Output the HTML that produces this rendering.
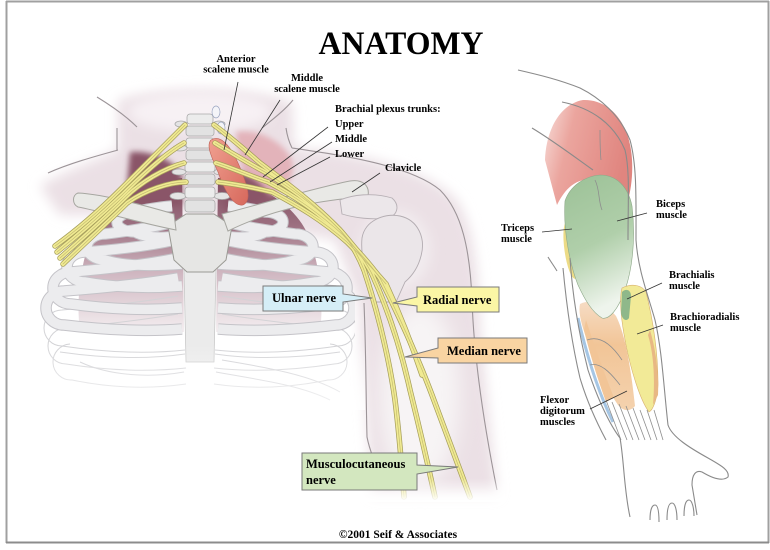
<!DOCTYPE html>
<html><head><meta charset="utf-8"><style>
html,body{margin:0;padding:0;background:#fff;}
svg{display:block;}
text{font-family:"Liberation Serif",serif;font-weight:bold;fill:#000;}
</style></head><body>
<svg width="770" height="550" viewBox="0 0 770 550" xmlns="http://www.w3.org/2000/svg">
<defs>
 <filter id="b3" x="-50%" y="-50%" width="200%" height="200%"><feGaussianBlur stdDeviation="3"/></filter>
 <filter id="b6" x="-50%" y="-50%" width="200%" height="200%"><feGaussianBlur stdDeviation="6"/></filter>
 <filter id="b10" x="-50%" y="-50%" width="200%" height="200%"><feGaussianBlur stdDeviation="10"/></filter>
 <linearGradient id="lung" gradientUnits="userSpaceOnUse" x1="0" y1="178" x2="0" y2="335">
  <stop offset="0" stop-color="#7f4a5d"/>
  <stop offset="0.3" stop-color="#9c6f80"/>
  <stop offset="0.6" stop-color="#cfb6c0"/>
  <stop offset="1" stop-color="#f6f1f3"/>
 </linearGradient>
 <linearGradient id="fadeW" x1="0" y1="0" x2="0" y2="1">
  <stop offset="0" stop-color="#fff" stop-opacity="0"/>
  <stop offset="1" stop-color="#fff" stop-opacity="1"/>
 </linearGradient>
 <linearGradient id="delt" x1="0" y1="0" x2="1" y2="0.3">
  <stop offset="0" stop-color="#f8e0dc"/>
  <stop offset="0.35" stop-color="#eba59e"/>
  <stop offset="1" stop-color="#e0857f"/>
 </linearGradient>
 <linearGradient id="bic" x1="0" y1="0" x2="0.25" y2="1">
  <stop offset="0" stop-color="#9cc197"/>
  <stop offset="0.55" stop-color="#b0cfaa"/>
  <stop offset="1" stop-color="#eef4ec"/>
 </linearGradient>
 <linearGradient id="scal" x1="0" y1="0" x2="1" y2="1">
  <stop offset="0" stop-color="#f0a090"/>
  <stop offset="1" stop-color="#d7685c"/>
 </linearGradient>
 <linearGradient id="flex" x1="0" y1="0" x2="0" y2="1">
  <stop offset="0" stop-color="#f6dcc4"/>
  <stop offset="0.4" stop-color="#f2c597"/>
  <stop offset="1" stop-color="#f4d2ae"/>
 </linearGradient>
 <clipPath id="ribclip"><rect x="20" y="150" width="335" height="300"/></clipPath>
 <g id="ribs">
  <g fill="none" stroke="#d3d3d6" stroke-width="1">
   <path d="M186,368 Q130,374 66,364 A18,18 0 0 1 66,328 Q130,322 178,314"/>
   <path d="M186,384 Q130,392 72,380 A18,18 0 0 1 70,344"/>
   <path d="M185,350 Q130,356 62,346 A18,18 0 0 1 62,310 Q130,304 178,296"/>
   <path d="M185,354 Q130,362 60,352"/>
  </g>
  <g fill="none" stroke="#c4c3c8" stroke-width="11.5">
   <path d="M182,329 Q130,333 64,325 A18,17 0 0 1 64,291 Q130,286 178,278"/>
   <path d="M182,308 Q130,312 71,304 A18,16 0 0 1 71,272 Q140,266 178,258"/>
   <path d="M182,286 Q130,290 85,282 A18,15 0 0 1 85,252 Q140,248 175,240"/>
   <path d="M182,264 Q130,268 105,260 A18,13 0 0 1 105,234 Q140,230 175,222"/>
   <path d="M176,236 Q150,240 135,232 A18,10 0 0 1 135,212 Q150,208 172,206"/>
  </g>
  <g fill="none" stroke="#ececee" stroke-width="9.5">
   <path d="M182,329 Q130,333 64,325 A18,17 0 0 1 64,291 Q130,286 178,278"/>
   <path d="M182,308 Q130,312 71,304 A18,16 0 0 1 71,272 Q140,266 178,258"/>
   <path d="M182,286 Q130,290 85,282 A18,15 0 0 1 85,252 Q140,248 175,240"/>
   <path d="M182,264 Q130,268 105,260 A18,13 0 0 1 105,234 Q140,230 175,222"/>
   <path d="M176,236 Q150,240 135,232 A18,10 0 0 1 135,212 Q150,208 172,206"/>
  </g>
 </g>
</defs>

<rect width="770" height="550" fill="#fff"/>

<!-- ===== LEFT FIGURE: skin ===== -->
<path d="M40,186 C62,172 95,160 118,150 L118,100 C160,86 250,86 292,102 L294,148 C350,152 420,165 455,198 C478,228 478,290 481,335 L497,495 L372,495 L358,300 L335,240 L200,215 L60,215 Z" fill="#ebe0e5" filter="url(#b6)"/>
<ellipse cx="200" cy="112" rx="72" ry="20" fill="#f7f1f4" filter="url(#b6)"/>
<ellipse cx="420" cy="395" rx="40" ry="92" fill="#f7f4f5" filter="url(#b10)"/>
<ellipse cx="395" cy="250" rx="36" ry="40" fill="#f2ecef" filter="url(#b6)"/>

<!-- lungs -->
<path d="M182,178 C140,182 105,205 92,235 C80,265 76,300 80,332 L184,332 Z" fill="url(#lung)"/>
<path d="M218,178 C260,182 295,205 308,235 C320,265 324,300 320,332 L216,332 Z" fill="url(#lung)"/>
<!-- middle scalene pink -->
<path d="M236,132 C256,128 282,140 292,160 C297,180 282,196 262,196 C246,190 238,160 236,132 Z" fill="#e3b3ba" filter="url(#b3)"/>
<path d="M130,152 C150,150 175,160 182,175 L182,205 L125,205 Z" fill="#8a5567" filter="url(#b3)"/>
<path d="M222,168 C240,168 262,180 272,200 L225,212 Z" fill="#8a5567" filter="url(#b3)"/>

<!-- ribs -->
<g clip-path="url(#ribclip)">
 <use href="#ribs"/>
 <g transform="translate(400,0) scale(-1,1)"><use href="#ribs"/></g>
</g>
<g fill="none" stroke="#d0d0d4" stroke-width="1">
 <path d="M216,372 C260,380 300,385 330,400"/>
 <path d="M222,360 C270,368 310,375 340,392"/>
 <path d="M184,372 C150,378 110,376 80,362"/>
</g>

<!-- sternum -->
<path d="M184,270 L216,270 L214,362 L186,362 Z" fill="#ebebeb" stroke="#c8c8c8" stroke-width="0.8"/>
<path d="M168,226 L186,214 L214,214 L232,226 L226,260 L213,272 L187,272 L174,260 Z" fill="#e6e6e4" stroke="#9a9a94" stroke-width="1"/>

<!-- fade lower chest -->
<rect x="20" y="345" width="345" height="65" fill="url(#fadeW)" opacity="0.8"/>

<!-- outlines left figure -->
<g fill="none" stroke="#9c9498" stroke-width="1.1">
 <path d="M97,97 C110,105 125,115 137,127"/>
 <path d="M117,128 L117,150"/>
 <path d="M48,173 C70,163 100,155 118,150"/>
 <path d="M293,100 C285,110 272,120 262,128"/>
 <path d="M286,128 C287,135 289,142 292,148"/>
 <path d="M292,148 C340,155 410,165 440,190 C462,212 470,250 472,300 C474,360 485,430 497,490"/>
 <path d="M364,303 C366,350 366,400 367,437 C370,452 375,462 380,472"/>
</g>

<!-- spine -->
<g stroke="#a9a9a9" stroke-width="0.8">
 <ellipse cx="181" cy="124" rx="6" ry="3" fill="#e4e4e4"/>
 <ellipse cx="219" cy="124" rx="6" ry="3" fill="#e4e4e4"/>
 <ellipse cx="180" cy="148" rx="7" ry="3" fill="#e4e4e4"/>
 <ellipse cx="220" cy="148" rx="7" ry="3" fill="#e4e4e4"/>
 <ellipse cx="179" cy="172" rx="7" ry="3" fill="#e4e4e4"/>
 <ellipse cx="221" cy="172" rx="7" ry="3" fill="#e4e4e4"/>
 <ellipse cx="178" cy="196" rx="8" ry="3.5" fill="#e4e4e4"/>
 <ellipse cx="222" cy="196" rx="8" ry="3.5" fill="#e4e4e4"/>
 <rect x="187" y="114" width="26" height="10" rx="3" fill="#ececec"/>
 <rect x="186" y="126" width="28" height="10" rx="3" fill="#e2e2e2"/>
 <rect x="186" y="138" width="28" height="10" rx="3" fill="#ececec"/>
 <rect x="186" y="150" width="28" height="10" rx="3" fill="#e2e2e2"/>
 <rect x="185" y="162" width="30" height="10" rx="3" fill="#ececec"/>
 <rect x="185" y="174" width="30" height="11" rx="3" fill="#e2e2e2"/>
 <rect x="185" y="187" width="30" height="11" rx="3" fill="#ececec"/>
 <rect x="185" y="200" width="30" height="12" rx="3" fill="#e2e2e2"/>
</g>
<g fill="#f4f4f8" stroke="#9aa4c0" stroke-width="0.7">
 <ellipse cx="216" cy="112" rx="4" ry="6"/>
 <ellipse cx="221" cy="128" rx="4" ry="6"/>
</g>

<!-- clavicles -->
<path d="M78,193 C100,194 140,204 174,214 L176,230 C140,223 100,211 78,207 C72,204 72,195 78,193 Z" fill="#e9e9e6" stroke="#a6a6a0" stroke-width="1"/>
<path d="M222,214 C262,204 310,189 350,181 C362,179 370,185 368,196 C356,198 330,199 300,206 C270,213 246,222 228,231 Z" fill="#e9e9e6" stroke="#a6a6a0" stroke-width="1"/>

<!-- scapula / humerus -->
<path d="M340,200 C352,195 372,192 392,198 C400,205 398,215 388,218 C372,220 355,218 342,214 Z" fill="#ece7ea" stroke="#b7b0b5" stroke-width="0.9"/>
<path d="M362,238 C365,220 385,213 400,216 C418,220 426,238 421,256 C418,268 412,276 405,282 L396,302 L372,302 C368,282 360,258 362,238 Z" fill="#ebe6e9" stroke="#b3acb1" stroke-width="0.9"/>

<!-- scalene -->
<path d="M211,140 C222,133 233,150 241,170 C249,190 251,201 243,205 C234,207 225,192 218,172 C211,156 206,145 211,140 Z" fill="url(#scal)" stroke="#c06258" stroke-width="0.6"/>

<!-- nerves -->
<g fill="none" stroke-linecap="round">
 <g stroke="#a79f5c" stroke-width="5.5">
  <path d="M185,125 C170,140 145,165 120,190 C100,210 80,228 55,246"/>
  <path d="M184,143 C168,152 145,172 122,195 C102,214 82,232 57,252"/>
  <path d="M184,163 C165,168 140,182 124,199 C105,218 85,236 60,258"/>
  <path d="M186,182 C170,182 145,190 127,203 C108,222 88,240 63,264"/>
  <path d="M214,125 C228,135 245,150 260,163 C285,182 310,200 335,225 C350,240 358,255 364,270"/>
  <path d="M215,143 C230,152 248,163 265,172 C290,188 315,205 340,230 C353,245 364,258 372,274"/>
  <path d="M216,163 C232,168 250,176 268,182 C293,195 318,212 343,235 C357,250 370,264 380,278"/>
  <path d="M218,182 C235,184 255,188 272,192 C297,205 322,220 347,242 C360,255 374,270 386,284"/>
  <path d="M364,270 C374,300 388,350 395,400 C400,440 402,470 404,497"/>
  <path d="M372,274 C386,305 400,345 410,390 C420,430 428,465 435,497"/>
  <path d="M380,278 C396,310 415,350 432,395 C447,435 460,470 470,497"/>
  <path d="M386,284 C398,310 412,345 422,375"/>
 </g>
 <g stroke="#f0ea92" stroke-width="4">
  <path d="M185,125 C170,140 145,165 120,190 C100,210 80,228 55,246"/>
  <path d="M184,143 C168,152 145,172 122,195 C102,214 82,232 57,252"/>
  <path d="M184,163 C165,168 140,182 124,199 C105,218 85,236 60,258"/>
  <path d="M186,182 C170,182 145,190 127,203 C108,222 88,240 63,264"/>
  <path d="M214,125 C228,135 245,150 260,163 C285,182 310,200 335,225 C350,240 358,255 364,270"/>
  <path d="M215,143 C230,152 248,163 265,172 C290,188 315,205 340,230 C353,245 364,258 372,274"/>
  <path d="M216,163 C232,168 250,176 268,182 C293,195 318,212 343,235 C357,250 370,264 380,278"/>
  <path d="M218,182 C235,184 255,188 272,192 C297,205 322,220 347,242 C360,255 374,270 386,284"/>
  <path d="M364,270 C374,300 388,350 395,400 C400,440 402,470 404,497"/>
  <path d="M372,274 C386,305 400,345 410,390 C420,430 428,465 435,497"/>
  <path d="M380,278 C396,310 415,350 432,395 C447,435 460,470 470,497"/>
  <path d="M386,284 C398,310 412,345 422,375"/>
 </g>
 <g stroke="#c4bc72" stroke-width="0.7">
  <path d="M185,125 C170,140 145,165 120,190 C100,210 80,228 55,246"/>
  <path d="M184,143 C168,152 145,172 122,195 C102,214 82,232 57,252"/>
  <path d="M184,163 C165,168 140,182 124,199 C105,218 85,236 60,258"/>
  <path d="M186,182 C170,182 145,190 127,203 C108,222 88,240 63,264"/>
  <path d="M214,125 C228,135 245,150 260,163 C285,182 310,200 335,225 C350,240 358,255 364,270"/>
  <path d="M215,143 C230,152 248,163 265,172 C290,188 315,205 340,230 C353,245 364,258 372,274"/>
  <path d="M216,163 C232,168 250,176 268,182 C293,195 318,212 343,235 C357,250 370,264 380,278"/>
  <path d="M218,182 C235,184 255,188 272,192 C297,205 322,220 347,242 C360,255 374,270 386,284"/>
  <path d="M364,270 C374,300 388,350 395,400 C400,440 402,470 404,497"/>
  <path d="M372,274 C386,305 400,345 410,390 C420,430 428,465 435,497"/>
  <path d="M380,278 C396,310 415,350 432,395 C447,435 460,470 470,497"/>
 </g>
</g>
<rect x="355" y="478" width="150" height="24" fill="url(#fadeW)"/>

<!-- ===== RIGHT FIGURE: arm ===== -->
<path d="M545,160 C546,130 560,104 583,100 C606,99 626,117 631,150 C634,170 631,190 628,200 C615,187 600,179 588,179 C575,181 566,187 557,205 Z" fill="url(#delt)"/>
<ellipse cx="571" cy="250" rx="6.5" ry="29" fill="#ecdb86" transform="rotate(-8 571 250)"/>
<path d="M580,304 C592,298 606,304 616,316 C626,336 631,370 635,406 C629,413 622,410 618,405 C605,386 594,360 587,340 C582,326 578,313 580,304 Z" fill="url(#flex)"/>
<path d="M586,320 C594,345 604,372 614,398 L606,402 C598,380 590,355 584,330 Z" fill="#f2c597"/>
<path d="M565,201 C570,186 585,176 600,175 C616,175 628,186 632,206 C636,240 632,270 625,290 C618,310 609,320 602,318 C592,312 585,300 578,285 C570,265 563,230 565,201 Z" fill="url(#bic)" stroke="#8da888" stroke-width="0.6"/>
<path d="M622,288 C632,283 642,285 646,292 C653,320 658,350 658,385 C657,400 653,410 649,412 C640,400 631,370 626,345 C621,320 619,300 622,288 Z" fill="#f2ea97" stroke="#d8b070" stroke-width="0.6"/>
<path d="M650,330 C656,350 659,375 658,395 L653,405 C655,380 654,355 648,335 Z" fill="#e8b884"/>
<path d="M622,292 C626,288 631,290 631,296 L629,318 C626,323 621,318 621,312 Z" fill="#8fb88a"/>
<path d="M578,318 C586,352 598,392 613,422" fill="none" stroke="#a6c6e4" stroke-width="3"/>
<g fill="none" stroke="#8e8e8e" stroke-width="0.8">
 <path d="M600,130 C600,140 600,150 601,160"/>
 <path d="M595,180 C600,190 598,200 602,210"/>
 <path d="M606,400 L621,440"/><path d="M612,402 L627,440"/><path d="M619,404 L633,440"/>
 <path d="M626,406 L639,440"/><path d="M633,408 L645,440"/><path d="M640,410 L651,440"/>
 <path d="M647,410 L657,440"/><path d="M654,410 L663,440"/>
 <path d="M587,340 C600,335 612,345 622,360"/><path d="M590,365 C600,362 610,372 620,385"/>
</g>
<g fill="none" stroke="#8a8a8a" stroke-width="1.1">
 <path d="M518,70 C540,75 560,80 580,88 C600,98 620,115 630,140 C637,165 636,200 636,240 C638,270 648,295 655,320 C662,350 664,390 668,425 C672,437 690,448 708,458 C720,465 730,470 728,477 C722,482 712,478 702,472 C696,470 692,474 692,485 L697,515"/>
 <path d="M562,102 C592,108 614,124 625,150 C630,170 628,200 628,240"/>
 <path d="M532,128 C552,140 572,155 593,170"/>
 <path d="M548,257 C551,262 554,266 557,271"/>
 <path d="M570,258 C572,290 578,330 588,370 C598,400 610,425 620,438 C624,460 624,490 630,517"/>
 <path d="M563,268 C566,300 571,340 580,378 C588,405 598,425 606,440"/>
 <path d="M650,520 C650,510 652,505 655,505 C658,505 659,512 659,522"/>
 <path d="M667,520 C667,508 669,503 672,503 C675,503 677,510 677,520"/>
 <path d="M684,516 C684,505 686,500 689,500 C692,500 694,508 694,516"/>
</g>

<!-- ===== labels & leaders ===== -->
<g stroke="#333" stroke-width="0.8" fill="none">
 <line x1="238" y1="82" x2="224" y2="150"/>
 <line x1="280" y1="100" x2="245" y2="155"/>
 <line x1="328" y1="127" x2="263" y2="177"/>
 <line x1="332" y1="142" x2="270" y2="182"/>
 <line x1="330" y1="157" x2="277" y2="185"/>
 <line x1="380" y1="173" x2="352" y2="192"/>
 <line x1="647" y1="213" x2="617" y2="221"/>
 <line x1="542" y1="232" x2="572" y2="229"/>
 <line x1="662" y1="283" x2="627" y2="299"/>
 <line x1="663" y1="325" x2="637" y2="334"/>
 <line x1="590" y1="409" x2="627" y2="391"/>
</g>

<text x="401" y="54" font-size="33" textLength="165" lengthAdjust="spacingAndGlyphs" text-anchor="middle">ANATOMY</text>

<g font-size="10.5">
 <text x="236" y="62" text-anchor="middle">Anterior</text>
 <text x="236" y="72.5" text-anchor="middle">scalene muscle</text>
 <text x="307" y="81" text-anchor="middle">Middle</text>
 <text x="307" y="92" text-anchor="middle">scalene muscle</text>
 <text x="335" y="112">Brachial plexus trunks:</text>
 <text x="335" y="127">Upper</text>
 <text x="335" y="142">Middle</text>
 <text x="335" y="157">Lower</text>
 <text x="385" y="171">Clavicle</text>
 <text x="656" y="207">Biceps</text>
 <text x="656" y="218">muscle</text>
 <text x="501" y="231">Triceps</text>
 <text x="501" y="242">muscle</text>
 <text x="669" y="278">Brachialis</text>
 <text x="669" y="289">muscle</text>
 <text x="670" y="320">Brachioradialis</text>
 <text x="670" y="331">muscle</text>
 <text x="540" y="403">Flexor</text>
 <text x="540" y="414">digitorum</text>
 <text x="540" y="425">muscles</text>
</g>

<!-- nerve callouts -->
<g stroke="#7a7a7a" stroke-width="1">
 <path d="M263,286 L343,286 L343,294 L372,298 L343,302 L343,311 L263,311 Z" fill="#d5eef7"/>
 <path d="M417,287 L499,287 L499,312 L417,312 L417,306 L393,303 L417,297 Z" fill="#fbf6a5"/>
 <path d="M438,338 L527,338 L527,363 L438,363 L438,358 L405,357 L438,348 Z" fill="#f9d4a2"/>
 <path d="M302,453 L417,453 L417,465 L458,467 L417,474 L417,490 L302,490 Z" fill="#d3e7bf"/>
</g>
<g font-size="12.5">
 <text x="272" y="302">Ulnar nerve</text>
 <text x="423" y="304">Radial nerve</text>
 <text x="447" y="355">Median nerve</text>
 <text x="306" y="468">Musculocutaneous</text>
 <text x="306" y="484">nerve</text>
</g>

<text x="398" y="538" font-size="11.5" text-anchor="middle">©2001 Seif &amp; Associates</text>

<!-- frame -->
<g stroke="#a0a0a0" stroke-width="2" fill="none">
 <line x1="6" y1="1.5" x2="769" y2="1.5"/>
 <line x1="6.5" y1="1" x2="6.5" y2="543"/>
 <line x1="768.5" y1="1" x2="768.5" y2="543"/>
 <line x1="6" y1="542.5" x2="769" y2="542.5" stroke="#8c8c8c"/>
</g>
</svg>
</body></html>
